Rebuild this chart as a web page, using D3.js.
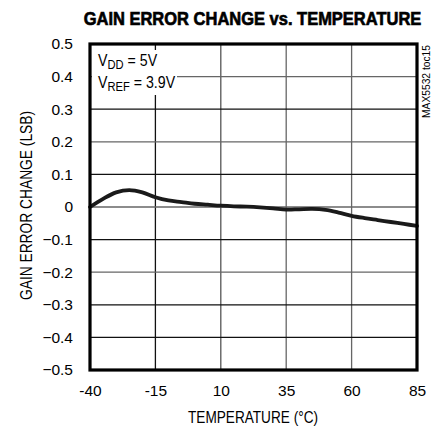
<!DOCTYPE html>
<html><head><meta charset="utf-8">
<script src="https://cdn.jsdelivr.net/npm/d3@7"></script>
<style>
body{margin:0;background:#fff;}
text{font-family:"Liberation Sans",Arial,sans-serif;}
</style></head>
<body><svg id="c" width="439" height="427"></svg>
<script>
const temps = [-40, -35, -30, -25, -20, -15, -10, -5, 0, 5, 10, 15, 20, 25, 30, 35, 40, 45, 50, 55, 60, 65, 70, 75, 80, 85];
const gainErr = [0.000, 0.025, 0.045, 0.052, 0.045, 0.030, 0.020, 0.015, 0.010, 0.007, 0.004, 0.002, 0.001, -0.001, -0.004, -0.008, -0.007, -0.006, -0.009, -0.017, -0.027, -0.034, -0.040, -0.046, -0.052, -0.058];
const xTicks = [-40, -15, 10, 35, 60, 85];
const yTicks = [0.5, 0.4, 0.3, 0.2, 0.1, 0, -0.1, -0.2, -0.3, -0.4, -0.5];

const svg = d3.select("#c");
const L = 90, R = 417, T = 44, B = 370;
const x = d3.scaleLinear().domain([-40, 85]).range([L, R]);
const y = d3.scaleLinear().domain([-0.5, 0.5]).range([B, T]);

// title
svg.append("g").attr("transform", "translate(252.5,25) scale(1,1.12)")
  .append("text").attr("x", 0).attr("y", 0).attr("text-anchor", "middle")
  .attr("stroke", "#000").attr("stroke-width", 0.6)
  .style("font-weight", "bold").style("font-size", "16.5px").text("GAIN ERROR CHANGE vs. TEMPERATURE");

// grid
const vCol = ["#111", "#555", "#666", "#666"];
svg.append("g").selectAll("line").data(xTicks.slice(1, -1)).join("line")
  .attr("x1", d => x(d)).attr("x2", d => x(d)).attr("y1", T).attr("y2", B)
  .attr("stroke", (d, i) => vCol[i]).attr("stroke-width", 1.3);
svg.append("g").selectAll("line").data(yTicks.slice(1, -1)).join("line")
  .attr("x1", L).attr("x2", R).attr("y1", d => y(d)).attr("y2", d => y(d))
  .attr("stroke", (d, i) => (i % 2 === 0 && i < 8) ? "#666" : "#111").attr("stroke-width", 1.3);

// legend mask
svg.append("rect").attr("x", L + 2).attr("y", 50).attr("width", 85).attr("height", 45).attr("fill", "#fff");
const lg = svg.append("g").attr("transform", "translate(98,0) scale(0.86,1)").style("font-size", "16.5px");
const t1 = lg.append("text").attr("x", 0).attr("y", 66.5);
t1.append("tspan").text("V");
t1.append("tspan").attr("dy", 2.5).style("font-size", "13px").text("DD");
t1.append("tspan").attr("dy", -2.5).text(" = 5V");
const t2 = lg.append("text").attr("x", 0).attr("y", 88.3);
t2.append("tspan").text("V");
t2.append("tspan").attr("dy", 2.5).style("font-size", "13px").text("REF");
t2.append("tspan").attr("dy", -2.5).text(" = 3.9V");

// curve
svg.append("path").datum(temps.map((t, i) => [t, gainErr[i]]))
  .attr("fill", "none").attr("stroke", "#1a1a1a").attr("stroke-width", 3.8)
  .attr("stroke-linejoin", "round").attr("stroke-linecap", "round")
  .attr("d", d3.line().x(d => x(d[0])).y(d => y(d[1])).curve(d3.curveCatmullRom));

// frame
svg.append("rect").attr("x", L).attr("y", T).attr("width", R - L).attr("height", B - T)
  .attr("fill", "none").attr("stroke", "#000").attr("stroke-width", 3.2);

// axes labels
const xa = svg.append("g").attr("transform", `translate(0,${B})`)
  .call(d3.axisBottom(x).tickValues(xTicks).tickSize(0).tickPadding(15).tickFormat(d => d));
xa.select(".domain").remove();
xa.selectAll("text").style("font-size", "15.5px").style("font-family", null).attr("fill", "#000");
const ya = svg.append("g").attr("transform", `translate(${L},0)`)
  .call(d3.axisLeft(y).tickValues(yTicks).tickSize(0).tickPadding(17).tickFormat(d => d === 0 ? "0" : d3.format(".1f")(d)));
ya.select(".domain").remove();
ya.selectAll("text").style("font-size", "15.5px").style("font-family", null).attr("fill", "#000");

svg.append("text").attr("x", 188).attr("y", 423)
  .attr("textLength", 130).attr("lengthAdjust", "spacingAndGlyphs")
  .style("font-size", "16px").text("TEMPERATURE (°C)");
svg.append("text").attr("transform", `translate(32,300) rotate(-90)`)
  .attr("textLength", 189).attr("lengthAdjust", "spacingAndGlyphs")
  .style("font-size", "16px").text("GAIN ERROR CHANGE (LSB)");
svg.append("text").attr("transform", `translate(430,118) rotate(-90)`)
  .attr("textLength", 73).attr("lengthAdjust", "spacingAndGlyphs")
  .style("font-size", "10px").text("MAX5532 toc15");
</script></body></html>
